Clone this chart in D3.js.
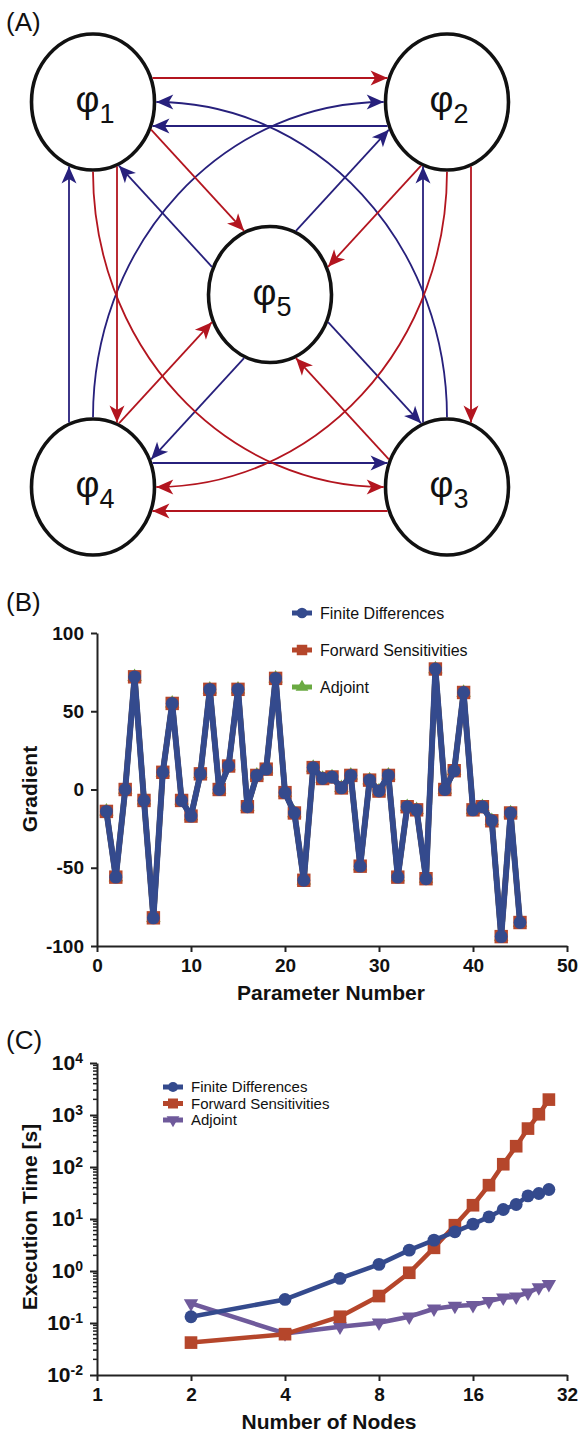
<!DOCTYPE html>
<html>
<head>
<meta charset="utf-8">
<script src="https://cdn.jsdelivr.net/npm/d3@7"></script>
<style>
body { margin: 0; background: #fff; }
svg { display: block; font-family: "Liberation Sans", Arial, Helvetica, sans-serif; }
</style>
</head>
<body>
<svg id="fig" width="581" height="1433"></svg>
<script>
// (A) network: grid slot of each node, and the links drawn between them
var nodeIds = [1, 2, 3, 4, 5]
var nodeCol = [0, 1, 1, 0, 0.5]
var nodeRow = [0, 0, 1, 1, 0.5]
var redLinks = [[1, 2], [1, 5], [2, 5], [1, 4], [2, 3], [3, 4], [4, 5], [3, 5]]
var redArcs = [[1, 3], [2, 4]]
var blueLinks = [[2, 1], [4, 1], [3, 2], [5, 1], [5, 2], [5, 4], [5, 3], [4, 3]]
var blueArcs = [[3, 1], [4, 2]]

// (B) gradient per parameter
var paramNumber = [1, 2, 3, 4, 5, 6, 7, 8, 9, 10, 11, 12, 13, 14, 15, 16, 17, 18, 19, 20, 21, 22, 23,
    24, 25, 26, 27, 28, 29, 30, 31, 32, 33, 34, 35, 36, 37, 38, 39, 40, 41, 42, 43, 44, 45]
var gradFD = [-14, -56, 0, 72, -7, -82, 11, 55, -7, -17, 10, 64, 0, 15, 64, -11, 9, 13, 71, -2, -15, -58, 14,
    7, 8, 1, 9, -49, 6, -1, 9, -56, -11, -13, -57, 77, 0, 12, 62, -13, -11, -20, -94, -15, -85]
var gradFS = [-14, -56, 0, 72, -7, -82, 11, 55, -7, -17, 10, 64, 0, 15, 64, -11, 9, 13, 71, -2, -15, -58, 14,
    7, 8, 1, 9, -49, 6, -1, 9, -56, -11, -13, -57, 77, 0, 12, 62, -13, -11, -20, -94, -15, -85]
var gradAdj = [-14, -56, 0, 72, -7, -82, 11, 55, -7, -17, 10, 64, 0, 15, 64, -11, 9, 13, 71, -2, -15, -58, 14,
    7, 8, 1, 9, -49, 6, -1, 9, -56, -11, -13, -57, 77, 0, 12, 62, -13, -11, -20, -94, -15, -85]
var xTicksB = [0, 10, 20, 30, 40, 50]
var yTicksB = [-100, -50, 0, 50, 100]

// (C) execution time vs number of nodes
var nodeCounts = [2, 4, 6, 8, 10, 12, 14, 16, 18, 20, 22, 24, 26, 28]
var timeFD = [0.132, 0.284, 0.72, 1.34, 2.52, 3.92, 5.67, 7.96, 11.0, 15.2, 19.0, 27.9, 30.9, 36.9]
var timeFS = [0.042, 0.061, 0.132, 0.33, 0.925, 2.79, 7.6, 18.4, 44.7, 113, 251, 548, 1033, 1977]
var timeAdj = [0.238, 0.063, 0.085, 0.101, 0.132, 0.188, 0.212, 0.221, 0.264, 0.306, 0.32, 0.382, 0.483, 0.56]
var xTicksC = [1, 2, 4, 8, 16, 32]
var yTicksC = [1e-2, 1e-1, 1, 10, 100, 1000, 10000]

var seriesNames = ['Finite Differences', 'Forward Sensitivities', 'Adjoint']

var cRed = '#b3151f'
var cBlue = '#27207c'
var cFD = '#344a8d'
var cFS = '#b5462b'
var cAdjB = '#6aaa42'
var cAdjC = '#6f5a9b'
var axisCol = '#222'

var svg = d3.select('#fig')
var defs = svg.append('defs')

///////
function panelLabel(txt, y) {
    svg.append('text').attr('x', 6).attr('y', y)
        .attr('font-size', 26).attr('fill', '#111').text(txt)
}

panelLabel('(A)', 31)
panelLabel('(B)', 611)
panelLabel('(C)', 1049)

//////// panel A
var RX = 61.5, RY = 68, OFF = 24, PAD = 1.8
var xA = d3.scaleLinear().domain([0, 1]).range([93, 447])
var yA = d3.scaleLinear().domain([0, 1]).range([102, 487])

function node(id) {
    return { x: xA(nodeCol[id - 1]), y: yA(nodeRow[id - 1]) }
}

;[['red', cRed], ['blue', cBlue]].forEach(function (m) {
    defs.append('marker').attr('id', 'arr-' + m[0])
        .attr('viewBox', '-19 -9 20 18')
        .attr('refX', 0).attr('refY', 0)
        .attr('markerWidth', 20).attr('markerHeight', 18)
        .attr('markerUnits', 'userSpaceOnUse')
        .attr('orient', 'auto')
        .append('path').attr('d', 'M0,0L-17,-7.5L-12.5,0L-17,7.5Z').attr('fill', m[1])
})

// distance along direction u from point p to the outline of ellipse at c
function hit(c, p, u, far) {
    var rx = RX + PAD, ry = RY + PAD
    var qx = p.x - c.x, qy = p.y - c.y
    var a = u.x * u.x / (rx * rx) + u.y * u.y / (ry * ry)
    var b = 2 * (qx * u.x / (rx * rx) + qy * u.y / (ry * ry))
    var k = qx * qx / (rx * rx) + qy * qy / (ry * ry) - 1
    var d = Math.sqrt(b * b - 4 * a * k)
    return far ? (-b + d) / (2 * a) : (-b - d) / (2 * a)
}

// straight links run parallel to the centre line, shifted to the left of travel
function straightPath(l) {
    var s = node(l[0]), t = node(l[1])
    var dx = t.x - s.x, dy = t.y - s.y, len = Math.hypot(dx, dy)
    var u = { x: dx / len, y: dy / len }
    var p = { x: s.x + u.y * OFF, y: s.y - u.x * OFF }
    var t0 = hit(s, p, u, true), t1 = hit(t, p, u, false)
    return 'M' + (p.x + u.x * t0) + ',' + (p.y + u.y * t0) + 'L' + (p.x + u.x * t1) + ',' + (p.y + u.y * t1)
}

// long links leave the top/bottom of source and enter the side of target (quarter ellipse)
function arcPath(l) {
    var s = node(l[0]), t = node(l[1])
    var sy = Math.sign(t.y - s.y), sx = Math.sign(t.x - s.x)
    var x0 = s.x, y0 = s.y + sy * (RY + PAD)
    var x1 = t.x - sx * (RX + PAD), y1 = t.y
    var sweep = (x0 - x1) * (y1 - y0) > 0 ? 1 : 0
    return 'M' + x0 + ',' + y0 + 'A' + Math.abs(x1 - x0) + ',' + Math.abs(y1 - y0) + ' 0 0 ' + sweep + ' ' + x1 + ',' + y1
}

var gA = svg.append('g')

gA.selectAll('ellipse').data(nodeIds).enter().append('ellipse')
    .attr('cx', d => node(d).x)
    .attr('cy', d => node(d).y)
    .attr('rx', RX).attr('ry', RY)
    .attr('fill', '#fff').attr('stroke', '#111').attr('stroke-width', 3.6)

function drawLinks(links, arcs, kind, col) {
    gA.append('g').selectAll('path').data(links).enter().append('path')
        .attr('d', straightPath)
        .attr('fill', 'none').attr('stroke', col).attr('stroke-width', 1.8)
        .attr('marker-end', 'url(#arr-' + kind + ')')
    gA.append('g').selectAll('path').data(arcs).enter().append('path')
        .attr('d', arcPath)
        .attr('fill', 'none').attr('stroke', col).attr('stroke-width', 1.8)
        .attr('marker-end', 'url(#arr-' + kind + ')')
}

drawLinks(blueLinks, blueArcs, 'blue', cBlue)
drawLinks(redLinks, redArcs, 'red', cRed)

var labels = gA.selectAll('text.phi').data(nodeIds).enter().append('text')
    .attr('class', 'phi')
    .attr('x', d => node(d).x + 2)
    .attr('y', d => node(d).y + 10)
    .attr('text-anchor', 'middle')
    .attr('font-size', 37).attr('fill', '#111')
labels.append('tspan').text('φ')
labels.append('tspan').attr('dy', 11).attr('font-size', 27).text(d => d)

//////// axes helper
function styleAxis(g, size) {
    g.select('.domain').attr('stroke', axisCol).attr('stroke-width', 2)
    g.selectAll('.tick line').attr('stroke', axisCol).attr('stroke-width', 2)
    g.selectAll('.tick text').attr('fill', '#111')
        .attr('font-size', size).attr('font-weight', 'bold')
        .attr('font-family', '"Liberation Sans", Arial, Helvetica, sans-serif')
}

function drawSeries(g, xs, ys, x, y, col, sym, size, width, rot) {
    var pts = xs.map((v, i) => [x(v), y(ys[i])])
    g.append('path').attr('d', d3.line()(pts))
        .attr('fill', 'none').attr('stroke', col)
        .attr('stroke-width', width).attr('stroke-linejoin', 'round')
    g.append('g').selectAll('path').data(pts).enter().append('path')
        .attr('d', d3.symbol().type(sym).size(size))
        .attr('transform', d => 'translate(' + d[0] + ',' + d[1] + ')rotate(' + rot + ')')
        .attr('fill', col)
}

function legend(x, y0, dy, fontSize, items) {
    var g = svg.append('g')
    items.forEach(function (it, i) {
        var y = y0 + i * dy
        g.append('line').attr('x1', x - 10).attr('x2', x + 10).attr('y1', y).attr('y2', y)
            .attr('stroke', it.col).attr('stroke-width', 5)
        g.append('path').attr('d', d3.symbol().type(it.sym).size(it.size))
            .attr('transform', 'translate(' + x + ',' + y + ')rotate(' + it.rot + ')')
            .attr('fill', it.col)
        g.append('text').attr('x', x + 18).attr('y', y).attr('dy', '0.36em')
            .attr('font-size', fontSize).attr('fill', '#111').text(seriesNames[i])
    })
}

var plainNum = d => String(d)

//////// panel B
var xB = d3.scaleLinear().domain([0, 50]).range([97, 567])
var yB = d3.scaleLinear().domain([-100, 100]).range([946, 633])

var gB = svg.append('g')
drawSeries(gB, paramNumber, gradAdj, xB, yB, cAdjB, d3.symbolTriangle, 90, 5.5, 0)
drawSeries(gB, paramNumber, gradFS, xB, yB, cFS, d3.symbolSquare, 180, 5.5, 0)
drawSeries(gB, paramNumber, gradFD, xB, yB, cFD, d3.symbolCircle, 130, 6, 0)

svg.append('g').attr('transform', 'translate(0,946)')
    .call(d3.axisBottom(xB).tickValues(xTicksB).tickFormat(plainNum).tickSize(6).tickSizeOuter(0).tickPadding(7))
    .call(g => styleAxis(g, 19))
svg.append('g').attr('transform', 'translate(97,0)')
    .call(d3.axisLeft(yB).tickValues(yTicksB).tickFormat(plainNum).tickSize(6).tickSizeOuter(0).tickPadding(7))
    .call(g => styleAxis(g, 19))

svg.append('text').attr('transform', 'translate(37,789)rotate(-90)')
    .attr('text-anchor', 'middle').attr('font-size', 21).attr('font-weight', 'bold')
    .attr('fill', '#111').text('Gradient')
svg.append('text').attr('x', 331).attr('y', 1000)
    .attr('text-anchor', 'middle').attr('font-size', 21).attr('font-weight', 'bold')
    .attr('fill', '#111').text('Parameter Number')

legend(302, 613, 37, 16, [
    { col: cFD, sym: d3.symbolCircle, size: 90, rot: 0 },
    { col: cFS, sym: d3.symbolSquare, size: 110, rot: 0 },
    { col: cAdjB, sym: d3.symbolTriangle, size: 70, rot: 0 }
])

//////// panel C
var xC = d3.scaleLog().base(2).domain([1, 32]).range([97, 567])
var yC = d3.scaleLog().domain([0.01, 10000]).range([1375, 1063])

var gC = svg.append('g')
drawSeries(gC, nodeCounts, timeAdj, xC, yC, cAdjC, d3.symbolTriangle, 90, 4.5, 180)
drawSeries(gC, nodeCounts, timeFS, xC, yC, cFS, d3.symbolSquare, 160, 4.5, 0)
drawSeries(gC, nodeCounts, timeFD, xC, yC, cFD, d3.symbolCircle, 130, 4.5, 0)

svg.append('g').attr('transform', 'translate(0,1375)')
    .call(d3.axisBottom(xC).tickValues(xTicksC).tickFormat(plainNum).tickSize(6).tickSizeOuter(0).tickPadding(7))
    .call(g => styleAxis(g, 19))

var yAxC = svg.append('g').attr('transform', 'translate(97,0)')
    .call(d3.axisLeft(yC).tickValues(yTicksC).tickSize(7).tickSizeOuter(0).tickPadding(7))
    .call(g => styleAxis(g, 21))
yAxC.selectAll('.tick text').each(function (d) {
    var t = d3.select(this)
    t.text('10')
    t.append('tspan').attr('dy', '-0.5em').attr('font-size', 14)
        .text(Math.round(Math.log10(d)))
})

// minor log ticks
yAxC.selectAll('line.minor')
    .data(yC.ticks().filter(v => Math.abs(Math.log10(v) - Math.round(Math.log10(v))) > 1e-6))
    .enter().append('line').attr('class', 'minor')
    .attr('x1', 0).attr('x2', -4)
    .attr('y1', d => yC(d)).attr('y2', d => yC(d))
    .attr('stroke', axisCol).attr('stroke-width', 1.5)

svg.append('text').attr('transform', 'translate(37,1217)rotate(-90)')
    .attr('text-anchor', 'middle').attr('font-size', 21).attr('font-weight', 'bold')
    .attr('fill', '#111').text('Execution Time [s]')
svg.append('text').attr('x', 329).attr('y', 1429)
    .attr('text-anchor', 'middle').attr('font-size', 21).attr('font-weight', 'bold')
    .attr('fill', '#111').text('Number of Nodes')

legend(173, 1087, 16.5, 15, [
    { col: cFD, sym: d3.symbolCircle, size: 80, rot: 0 },
    { col: cFS, sym: d3.symbolSquare, size: 100, rot: 0 },
    { col: cAdjC, sym: d3.symbolTriangle, size: 70, rot: 180 }
])
</script>
</body>
</html>
